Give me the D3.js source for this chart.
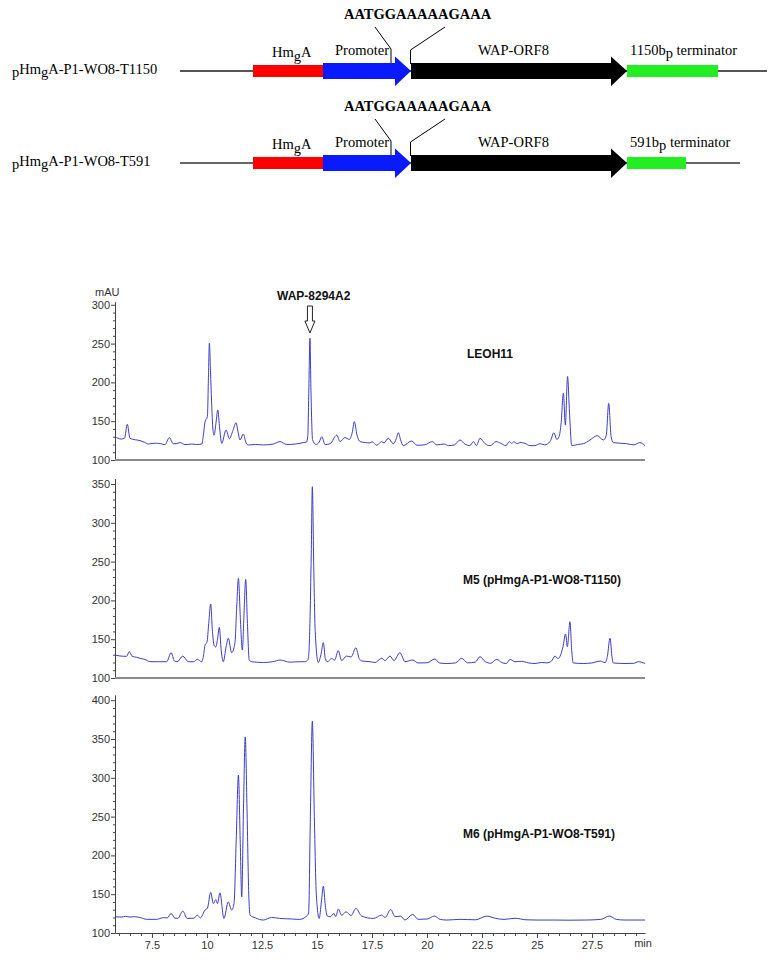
<!DOCTYPE html>
<html>
<head>
<meta charset="utf-8">
<script src="https://cdn.jsdelivr.net/npm/d3@7"></script>
<style>
  body { margin: 0; background: #fff; }
  svg { display: block; }
</style>
</head>
<body>
<div id="chart"></div>
<script>
// construct diagrams
var constructNames = ["T1150", "T591"]
var terminatorText = ["1150", "591"]
var terminatorEnd = [538, 506]   // diagram units (relative bp-ish length)
var backboneEnd = [587, 560]
var hmgA = [73, 143]
var promoter = [143, 231]
var orf8 = [231, 447]
var junctionSeq = "AATGGAAAAAGAAA"

// chromatograms, [min, mAU]
var leoh11 = [[5.82,130],[6.1,127],[6.25,128],[6.38,146],[6.5,128],[6.75,126],[6.96,125],[7.05,124],[7.15,123],[7.33,120.6],[7.55,121.5],[7.7,121.6],[7.9,121],[8.09,119.8],[8.29,128.8],[8.47,121],[8.6,121],[8.77,122.5],[9.0,119.8],[9.3,120.5],[9.53,120],[9.76,120.5],[9.85,135],[9.91,149],[10.02,156],[10.07,210],[10.11,250.5],[10.16,215],[10.21,175],[10.27,140],[10.32,132],[10.42,150],[10.49,164.5],[10.58,140],[10.67,121.5],[10.87,138.7],[11.02,127.4],[11.18,138],[11.32,148],[11.42,135],[11.5,125.8],[11.65,133.5],[11.78,122],[11.88,119.4],[12.2,120],[12.56,119.4],[13.0,120.5],[13.32,123.7],[13.62,120],[14.0,120.5],[14.38,122.4],[14.52,123],[14.58,130],[14.63,190],[14.68,257],[14.73,185],[14.8,126],[14.96,120],[15.1,123],[15.22,130],[15.37,119.8],[15.6,121],[15.9,132],[16.05,123.7],[16.27,129],[16.47,126.5],[16.6,135],[16.7,149.4],[16.82,132],[16.96,123.7],[17.2,122.5],[17.41,122],[17.5,123.5],[17.72,119],[17.94,123.7],[18.05,122],[18.24,128],[18.47,121],[18.6,127],[18.7,135.2],[18.8,126],[18.92,118.5],[19.3,124.5],[19.55,119],[19.9,119.5],[20.24,123.7],[20.45,119.5],[20.79,120.6],[20.97,118.5],[21.25,119.5],[21.5,125.8],[21.73,120.4],[21.95,118.5],[22.11,123.7],[22.25,118.5],[22.41,128],[22.64,121],[22.87,118.5],[23.14,123.7],[23.35,121.5],[23.59,118.5],[23.74,123.7],[23.85,121.5],[23.95,123.5],[24.1,121],[24.23,122.5],[24.45,121.5],[24.68,118.5],[24.9,118.5],[25.14,121],[25.35,119.5],[25.6,124],[25.77,135.2],[25.9,126.5],[26.0,130],[26.1,148],[26.2,186],[26.29,145],[26.39,207.5],[26.48,160],[26.58,118.5],[26.85,120],[27.11,121],[27.41,125.8],[27.74,131.4],[28.02,125.8],[28.15,132],[28.26,173],[28.37,130],[28.47,122.4],[29.08,121],[29.4,119.5],[29.67,122.4],[29.91,118.5]]

var m5 = [[5.82,129.6],[6.2,128],[6.35,128],[6.47,134],[6.6,128],[6.8,126.7],[7.0,125],[7.18,124],[7.41,121],[7.8,121],[8.17,121],[8.37,132.6],[8.52,122],[8.65,121],[8.9,128.3],[9.15,121],[9.4,121],[9.56,124],[9.76,121],[9.85,130],[9.91,142.5],[10.0,146],[10.08,170],[10.17,195.4],[10.25,160],[10.32,142.5],[10.4,140],[10.48,150],[10.56,165.3],[10.65,135],[10.74,121],[10.87,140],[10.97,151.2],[11.12,132.6],[11.27,144.7],[11.35,190],[11.43,228.5],[11.52,175],[11.61,136],[11.68,180],[11.76,227.2],[11.84,170],[11.92,123.2],[12.03,121],[12.56,120],[13.0,121],[13.32,123.2],[13.77,120.4],[14.2,121],[14.46,121],[14.6,124],[14.68,170],[14.74,260],[14.79,346.5],[14.85,250],[14.92,160],[15.06,120],[15.18,130],[15.29,145.5],[15.38,125],[15.47,121],[15.67,125],[15.8,123],[15.97,135.2],[16.12,122.5],[16.35,128.3],[16.55,127],[16.77,139],[16.92,125],[17.03,122],[17.41,121],[17.64,120],[17.94,125.4],[18.1,122.5],[18.32,128.3],[18.5,122.5],[18.77,132.6],[19.0,121],[19.35,123.2],[19.6,119.4],[20.0,119.6],[20.36,124.5],[20.56,119.4],[20.9,118.7],[21.3,119.5],[21.58,125.4],[21.85,119.5],[22.2,120.5],[22.41,127.5],[22.65,121],[22.9,119],[23.17,124],[23.4,120],[23.6,118.7],[23.78,124],[24.0,121],[24.3,121.5],[24.6,119.5],[24.91,118.7],[25.2,120],[25.45,119.5],[25.65,121.5],[25.82,128.3],[25.95,125],[26.05,128],[26.18,140],[26.3,156.7],[26.38,140.3],[26.5,172.6],[26.58,135],[26.65,119.4],[27.1,118.7],[27.5,119.4],[27.87,121.8],[28.1,119.8],[28.2,128],[28.32,151.2],[28.42,125],[28.47,119.4],[29.0,118.7],[29.4,118.9],[29.6,121],[29.91,118.7]]

var m6 = [[5.82,120.9],[6.1,120.5],[6.3,121.5],[6.5,120.5],[6.7,121],[6.95,120],[7.26,117.6],[7.71,117.6],[8.02,119.7],[8.2,119.5],[8.37,125.2],[8.55,119],[8.68,119],[8.9,128.2],[9.1,118.8],[9.4,119],[9.56,123],[9.7,119.5],[9.91,129.5],[10.02,132],[10.17,152.2],[10.29,138],[10.4,143],[10.48,138],[10.59,151.7],[10.77,118.8],[10.97,140],[11.12,129.5],[11.23,138],[11.33,220],[11.43,303.5],[11.51,220],[11.58,146.5],[11.66,260],[11.74,352.6],[11.82,260],[11.9,150],[11.96,123],[12.2,119.5],[12.56,116.7],[12.94,120],[13.3,118.8],[13.9,118],[14.2,117.5],[14.53,121.8],[14.62,126],[14.7,250],[14.79,373],[14.88,250],[14.97,150],[15.1,118.8],[15.2,140],[15.29,160.3],[15.38,135],[15.47,121.8],[15.6,121],[15.77,125.2],[15.85,121],[15.97,130.8],[16.12,122.8],[16.32,127.3],[16.55,122.5],[16.77,131.7],[17.03,121.8],[17.56,118.8],[17.94,123],[18.1,120],[18.35,130.4],[18.55,121],[18.8,121.8],[19.0,116.7],[19.35,124],[19.6,117.6],[20.0,118],[20.34,121.8],[20.6,117.5],[20.9,116.7],[21.5,117.6],[22.2,117],[22.72,121.8],[23.1,119],[23.5,117.5],[24.0,119],[24.5,117],[25.0,116.7],[25.8,116.7],[26.5,116.5],[27.2,116.7],[27.9,117.5],[28.29,121.8],[28.6,117.6],[29.0,116.7],[29.5,116.7],[29.91,116.7]]

var panelNames = ["LEOH11", "M5 (pHmgA-P1-WO8-T1150)", "M6 (pHmgA-P1-WO8-T591)"]
var panelTop = [300, 350, 400]
var xTicks = [7.5, 10, 12.5, 15, 17.5, 20, 22.5, 25, 27.5]

var width = 776,
  height = 960

var svg = d3.select("#chart")
  .append("svg")
  .attr("width", width)
  .attr("height", height)

svg.append("rect").attr("width", width).attr("height", height).attr("fill", "#fff")

// ---------- construct diagrams ----------
var dx = d3.scaleLinear().domain([0, 600]).range([180, 780])
var serif = "'Liberation Serif', 'Times New Roman', serif"

constructNames.forEach(function (name, i) {
  var cy = 71 + i * 92
  var g = svg.append("g")

  // left label, with the lowered p and g
  var lab = g.append("text")
    .attr("x", 12).attr("y", cy + 3)
    .attr("font-family", serif).attr("font-size", 14.5)
  lab.append("tspan").attr("dy", 3).text("p")
  lab.append("tspan").attr("dy", -3).text("Hm")
  lab.append("tspan").attr("dy", 3).text("g")
  lab.append("tspan").attr("dy", -3).text("A-P1-WO8-" + name)

  g.append("line")
    .attr("x1", dx(0)).attr("x2", dx(backboneEnd[i]))
    .attr("y1", cy).attr("y2", cy)
    .attr("stroke", i == 0 ? "#555" : "#333")
    .attr("stroke-width", i == 0 ? 1.8 : 1.3)

  g.append("rect")
    .attr("x", dx(hmgA[0])).attr("width", dx(hmgA[1]) - dx(hmgA[0]))
    .attr("y", cy - 6).attr("height", 12)
    .attr("fill", "#ff0000")

  g.append("rect")
    .attr("x", dx(orf8[1])).attr("width", dx(terminatorEnd[i]) - dx(orf8[1]))
    .attr("y", cy - 6).attr("height", 12)
    .attr("fill", "#22ee22")

  function arrow(a, b, color) {
    var x0 = dx(a), x1 = dx(b), hx = x1 - 16
    var pts = [[x0, cy - 8], [hx, cy - 8], [hx, cy - 14.5], [x1, cy], [hx, cy + 15], [hx, cy + 8], [x0, cy + 8]]
    g.append("path")
      .attr("d", d3.line()(pts) + "Z")
      .attr("fill", color)
  }
  arrow(promoter[0], promoter[1], "#0a1aff")
  arrow(orf8[0], orf8[1], "#000")

  // feature captions
  var hm = g.append("text")
    .attr("x", 272).attr("y", cy - 14)
    .attr("font-family", serif).attr("font-size", 14.5)
  hm.append("tspan").text("Hm")
  hm.append("tspan").attr("dy", 4).text("g")
  hm.append("tspan").attr("dy", -4).text("A")

  g.append("text")
    .attr("x", 335).attr("y", cy - 16)
    .attr("font-family", serif).attr("font-size", 14.5)
    .text("Promoter")

  g.append("text")
    .attr("x", 478).attr("y", cy - 16)
    .attr("font-family", serif).attr("font-size", 14.5)
    .text("WAP-ORF8")

  var term = g.append("text")
    .attr("x", 630).attr("y", cy - 16)
    .attr("font-family", serif).attr("font-size", 14.5)
  term.append("tspan").text(terminatorText[i] + "b")
  term.append("tspan").attr("dy", 3).text("p")
  term.append("tspan").attr("dy", -3).text(" terminator")

  // junction sequence and callout
  g.append("text")
    .attr("x", 344).attr("y", cy - 52.5)
    .attr("font-family", serif).attr("font-size", 14.5).attr("font-weight", "bold")
    .text(junctionSeq)

  g.append("path")
    .attr("d", d3.line()([[375, cy - 44], [391, cy - 22], [391, cy - 8]]))
    .attr("fill", "none").attr("stroke", "#000").attr("stroke-width", 1)
  g.append("path")
    .attr("d", d3.line()([[445, cy - 44], [410.5, cy - 21], [410.5, cy - 7]]))
    .attr("fill", "none").attr("stroke", "#000").attr("stroke-width", 1)
})

// ---------- chromatograms ----------
var sans = "'Liberation Sans', Arial, sans-serif"
var pxPerAU = 0.776
var x = d3.scaleLinear().domain([5.82, 29.91]).range([115, 645])
var bottoms = [460, 678, 933]
var traces = [leoh11, m5, m6]

var line = d3.line()
  .x(function (d) { return x(d[0]) })
  .y(function (d) { return this.y(d[1]) })

traces.forEach(function (trace, i) {
  var top = panelTop[i] + (i == 0 ? 4 : 7)
  var y = d3.scaleLinear()
    .domain([100, top])
    .range([bottoms[i], bottoms[i] - (top - 100) * pxPerAU])

  var g = svg.append("g")

  // minor y ticks
  var minor = d3.range(110, panelTop[i] + 1, 10).filter(function (v) { return v % 50 != 0 })
  g.append("g")
    .attr("transform", "translate(115,0)")
    .call(d3.axisLeft(y).tickValues(minor).tickSize(2).tickSizeOuter(0).tickFormat(""))
    .call(function (a) { a.select(".domain").remove() })
    .selectAll("line").attr("stroke", "#444")

  var yAxis = g.append("g")
    .attr("transform", "translate(115,0)")
    .call(d3.axisLeft(y).tickValues(d3.range(100, panelTop[i] + 1, 50)).tickSize(4).tickPadding(1).tickSizeOuter(0))
  yAxis.select(".domain").attr("stroke", "#444")
  yAxis.selectAll("line").attr("stroke", "#444")
  yAxis.selectAll("text")
    .attr("font-family", sans).attr("font-size", 11).attr("fill", "#333")

  var path = d3.line()
    .x(function (d) { return x(d[0]) })
    .y(function (d) { return y(d[1]) })
    .curve(d3.curveMonotoneX)

  g.append("path")
    .datum(trace)
    .attr("d", path)
    .attr("fill", "none")
    .attr("stroke", "#3c3cc8")
    .attr("stroke-width", 1)

  if (i < 2) {
    g.append("line")
      .attr("x1", 115).attr("x2", 645)
      .attr("y1", bottoms[i]).attr("y2", bottoms[i])
      .attr("stroke", "#8a8a8a").attr("stroke-width", 2)
  }

  var labelY = [358, 584, 838]
  g.append("text")
    .attr("x", 463 + (i == 0 ? 4 : 0)).attr("y", labelY[i])
    .attr("font-family", sans).attr("font-size", 12).attr("font-weight", "bold")
    .attr("fill", "#111")
    .text(panelNames[i])
})

// mAU unit label
svg.append("text")
  .attr("x", 95).attr("y", 296)
  .attr("font-family", sans).attr("font-size", 11).attr("fill", "#333")
  .text("mAU")

// peak annotation
svg.append("text")
  .attr("x", 277).attr("y", 300)
  .attr("font-family", sans).attr("font-size", 12).attr("font-weight", "bold")
  .attr("fill", "#111")
  .text("WAP-8294A2")

var ax = x(14.68)
svg.append("path")
  .attr("d", d3.line()([[ax - 2.5, 306], [ax + 2.5, 306], [ax + 2.5, 321], [ax + 5, 321], [ax, 333], [ax - 5, 321], [ax - 2.5, 321]]) + "Z")
  .attr("fill", "#fff").attr("stroke", "#222").attr("stroke-width", 1)

// x axis, bottom panel
var minorX = d3.range(6, 29.6, 0.5).filter(function (v) { return v % 2.5 != 0 })
svg.append("g")
  .attr("transform", "translate(0,933)")
  .call(d3.axisBottom(x).tickValues(minorX).tickSize(3).tickSizeOuter(0).tickFormat(""))
  .call(function (a) { a.select(".domain").remove() })
  .selectAll("line").attr("stroke", "#444")

var xAxis = svg.append("g")
  .attr("transform", "translate(0,933)")
  .call(d3.axisBottom(x).tickValues(xTicks).tickSize(5).tickPadding(3).tickSizeOuter(0).tickFormat(function (d) { return String(d) }))
xAxis.select(".domain").attr("stroke", "#444")
xAxis.selectAll("line").attr("stroke", "#444")
xAxis.selectAll("text")
  .attr("font-family", sans).attr("font-size", 11).attr("fill", "#333")

svg.append("text")
  .attr("x", 643).attr("y", 947)
  .attr("text-anchor", "middle")
  .attr("font-family", sans).attr("font-size", 11).attr("fill", "#333")
  .text("min")
</script>
</body>
</html>
